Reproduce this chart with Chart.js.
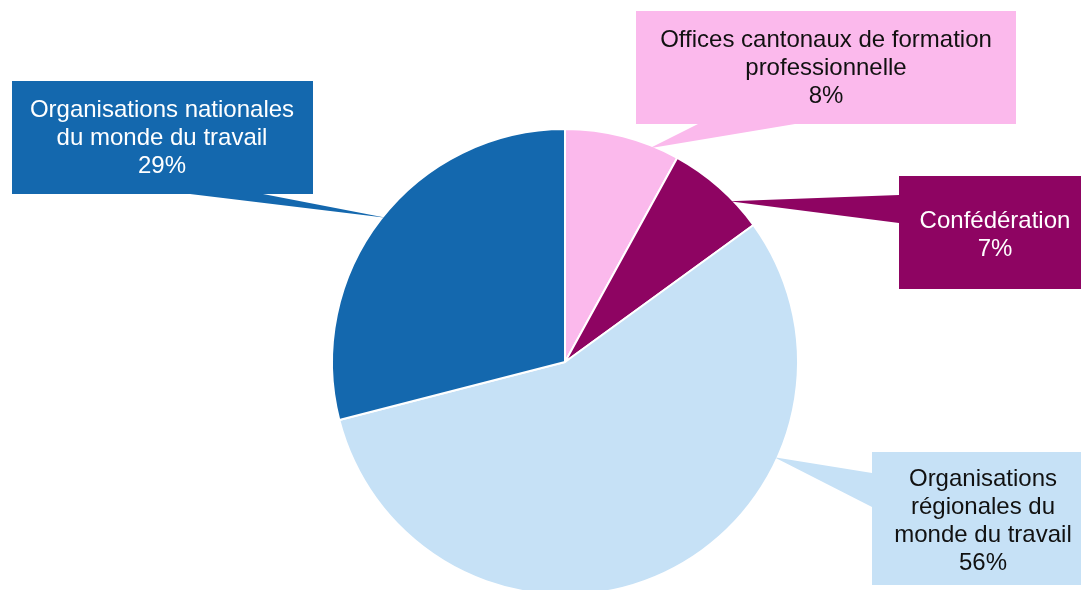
<!DOCTYPE html>
<html>
<head>
<meta charset="utf-8">
<script src="https://cdn.jsdelivr.net/npm/chart.js@4/dist/chart.umd.min.js"></script>
<style>
    html, body { margin: 0; padding: 0; background: #ffffff; overflow: hidden; }
    #wrap { width: 1081px; height: 600px; }
</style>
</head>
<body>
<div id="wrap"><canvas id="fundingChart" width="1081" height="600"></canvas></div>
<script>
// Funding shares by body
const labels = [
    ['Offices cantonaux de formation', 'professionnelle'],
    ['Confédération'],
    ['Organisations', 'régionales du', 'monde du travail'],
    ['Organisations nationales', 'du monde du travail']
];
const values = [8, 7, 56, 29];
const sliceColors = ['#fbb9ec', '#8e0462', '#c6e1f6', '#1468ae'];
const textColors = ['#111111', '#ffffff', '#111111', '#ffffff'];

// Callout boxes: rectangle, pointer base and where the pointer meets the slice (fraction of the arc)
const callouts = [
    { x: 636, y: 11, w: 380, h: 113, cx: 826, cy: 68, base: [[698, 124], [795, 124]], at: 0.75 },
    { x: 899, y: 176, w: 190, h: 113, cx: 995, cy: 235, base: [[899, 195], [899, 223]], at: 0.67 },
    { x: 872, y: 452, w: 220, h: 133, cx: 983, cy: 521, base: [[872, 473], [872, 507]], at: 0.30 },
    { x: 12, y: 81, w: 301, h: 113, cx: 162, cy: 138, base: [[190, 194], [263, 194]], at: 0.51 }
];

const calloutPlugin = {
    id: 'callouts',
    afterDatasetsDraw(chart) {
        const ctx = chart.ctx;
        const arcs = chart.getDatasetMeta(0).data;
        ctx.save();
        arcs.forEach((arc, i) => {
            const c = callouts[i];
            const a = arc.startAngle + (arc.endAngle - arc.startAngle) * c.at;
            const r = arc.outerRadius - 3;
            const tipX = arc.x + Math.cos(a) * r;
            const tipY = arc.y + Math.sin(a) * r;

            ctx.fillStyle = sliceColors[i];
            ctx.fillRect(c.x, c.y, c.w, c.h);
            ctx.beginPath();
            ctx.moveTo(c.base[0][0], c.base[0][1]);
            ctx.lineTo(tipX, tipY);
            ctx.lineTo(c.base[1][0], c.base[1][1]);
            ctx.closePath();
            ctx.fill();

            const lines = labels[i].concat([values[i] + '%']);
            const lineHeight = 28;
            ctx.fillStyle = textColors[i];
            ctx.font = '24px "Liberation Sans", Arial, sans-serif';
            ctx.textAlign = 'center';
            ctx.textBaseline = 'middle';
            const top = c.cy - (lines.length - 1) * lineHeight / 2;
            lines.forEach((line, j) => {
                ctx.fillText(line, c.cx, top + j * lineHeight);
            });
        });
        ctx.restore();
    }
};

new Chart(document.getElementById('fundingChart'), {
    type: 'pie',
    data: {
        labels: labels,
        datasets: [{
            data: values,
            backgroundColor: sliceColors,
            borderColor: '#ffffff',
            borderWidth: 2
        }]
    },
    options: {
        responsive: false,
        animation: false,
        layout: {
            padding: { left: 331, right: 282, top: 128, bottom: 4 }
        },
        plugins: {
            legend: { display: false },
            tooltip: { enabled: false }
        }
    },
    plugins: [calloutPlugin]
});
</script>
</body>
</html>
